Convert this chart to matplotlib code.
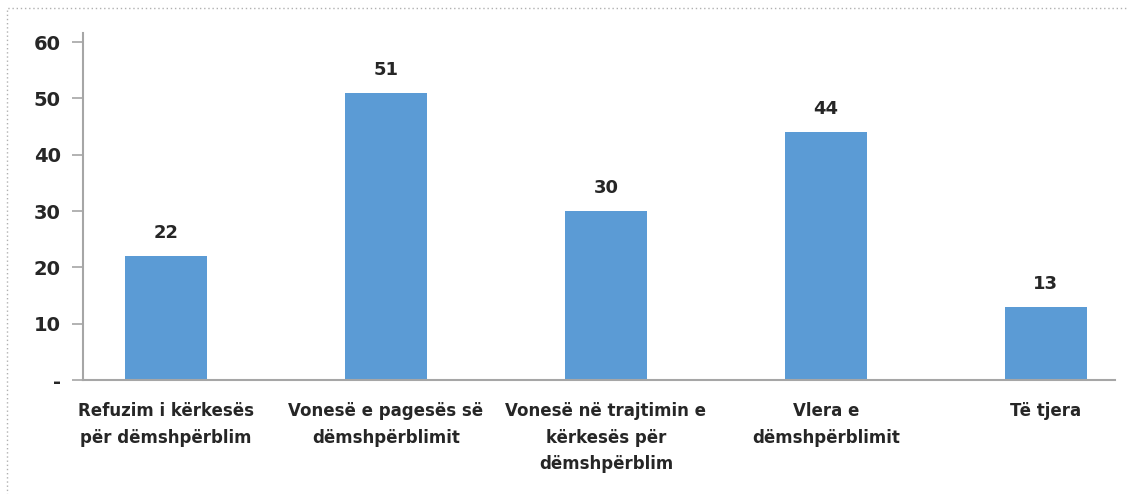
import matplotlib.pyplot as plt
from matplotlib.patches import Rectangle

# Ankesat sipas kategorise
kategorite = [
    'Refuzim i kërkesës\npër dëmshpërblim',
    'Vonesë e pagesës së\ndëmshpërblimit',
    'Vonesë në trajtimin e\nkërkesës për\ndëmshpërblim',
    'Vlera e\ndëmshpërblimit',
    'Të tjera',
]
vlerat = [22, 51, 30, 44, 13]
yticks = [0, 10, 20, 30, 40, 50, 60]
ytick_labels = ['-', '10', '20', '30', '40', '50', '60']

W, H = 1129, 494
fig = plt.figure(figsize=(W / 100, H / 100), dpi=100)
ax = fig.add_axes([83 / W, 114 / H, (1115 - 83) / W, (380 - 33) / H])

x = range(len(vlerat))
bars = ax.bar(x, vlerat, width=0.375, color='#5B9BD5', zorder=2)
for b, v in zip(bars, vlerat):
    ax.annotate(str(v), (b.get_x() + b.get_width() / 2, v), xytext=(0, 10),
                textcoords='offset points', ha='center', va='bottom',
                fontsize=13, fontweight='bold', color='#262626')

ax.set_xlim(-0.377, 4.314)
ax.set_ylim(0, 61.6)
ax.set_yticks(yticks)
ax.set_yticklabels(ytick_labels, fontsize=14, fontweight='bold', color='#262626')
ax.set_xticks(list(x))
ax.set_xticklabels(kategorite, fontsize=12, fontweight='bold', color='#262626',
                   linespacing=1.6)
ax.tick_params(axis='x', length=0, pad=16)
ax.tick_params(axis='y', length=8, width=1.2, color='#a6a6a6', pad=8)

for s in ['top', 'right']:
    ax.spines[s].set_visible(False)
for s in ['left', 'bottom']:
    ax.spines[s].set_color('#a6a6a6')
    ax.spines[s].set_linewidth(1.5)

# kornize me pika rreth grafikut
fig.patches.append(Rectangle((7 / W, -0.1), 1.2, 1 - 8 / H + 0.1,
                             transform=fig.transFigure, fill=False,
                             edgecolor='#b0b0b0', linestyle=(0, (1, 2)),
                             linewidth=1))

fig.savefig('out.png', dpi=100)
